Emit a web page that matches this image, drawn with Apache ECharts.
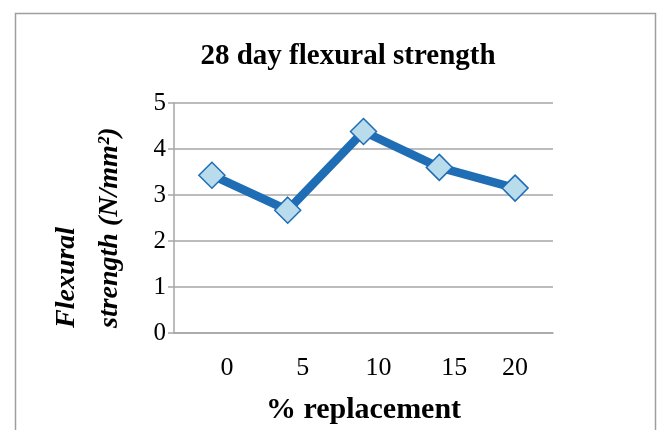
<!DOCTYPE html>
<html>
<head>
<meta charset="utf-8">
<script src="https://cdn.jsdelivr.net/npm/echarts@6/dist/echarts.min.js"></script>
<style>
  html, body { margin: 0; padding: 0; background: #ffffff; }
  #chart { width: 658px; height: 430px; }
</style>
</head>
<body>
<div id="chart"></div>
<script>
// 28-day flexural strength against % replacement
const replacement = ['0', '5', '10', '15', '20'];
const strength = [3.43, 2.67, 4.38, 3.60, 3.15];
const yTicks = [0, 1, 2, 3, 4, 5];

const SERIF = '"Liberation Serif", "Times New Roman", serif';
const chart = echarts.init(document.getElementById('chart'), null, { renderer: 'canvas' });

chart.setOption({
  backgroundColor: '#ffffff',
  animation: false,
  title: {
    text: '28 day flexural strength',
    left: 343,
    top: 37,
    textAlign: 'center',
    textStyle: { fontFamily: SERIF, fontWeight: 'bold', fontSize: 29, color: '#000' }
  },
  grid: { left: 174, right: 105, top: 103, bottom: 92 },
  xAxis: {
    type: 'category',
    data: replacement,
    boundaryGap: true,
    name: '% replacement',
    nameLocation: 'middle',
    nameGap: 62,
    nameTextStyle: { fontFamily: SERIF, fontWeight: 'bold', fontSize: 30, color: '#000' },
    axisLine: { lineStyle: { color: '#a6a6a6', width: 1.5 } },
    axisTick: { show: false },
    axisLabel: {
      interval: 0,
      margin: 22,
      fontFamily: SERIF,
      fontSize: 26,
      color: '#000',
      formatter: (v, i) => (i < replacement.length - 1 ? '{s|' + v + '}' : '{n|' + v + '}'),
      rich: {
        s: { fontFamily: SERIF, fontSize: 26, color: '#000', padding: [0, 0, 0, 30] },
        n: { fontFamily: SERIF, fontSize: 26, color: '#000' }
      }
    }
  },
  yAxis: {
    type: 'value',
    min: yTicks[0],
    max: yTicks[yTicks.length - 1],
    interval: 1,
    axisLine: { show: true, lineStyle: { color: '#a6a6a6', width: 1.5 } },
    axisTick: { show: true, length: 6, lineStyle: { color: '#a6a6a6', width: 1.5 } },
    axisLabel: { margin: 8, fontFamily: SERIF, fontSize: 25, color: '#000' },
    splitLine: { lineStyle: { color: '#a6a6a6', width: 1.5 } }
  },
  series: [{
    type: 'line',
    data: strength,
    lineStyle: { color: '#1f6db5', width: 8.5 },
    symbol: 'diamond',
    symbolSize: 26,
    itemStyle: { color: '#b8dcec', borderColor: '#1f6db5', borderWidth: 1.5 },
    z: 3
  }],
  graphic: [
    {
      type: 'rect',
      shape: { x: 15.5, y: 13.5, width: 640, height: 440 },
      style: { fill: 'none', stroke: '#9e9e9e', lineWidth: 1.5 },
      silent: true
    },
    {
      type: 'text',
      x: 88,
      y: 328,
      rotation: Math.PI / 2,
      style: {
        text: 'Flexural\nstrength (N/mm²)',
        font: 'italic bold 28px ' + SERIF,
        fill: '#000',
        align: 'left',
        verticalAlign: 'middle',
        lineHeight: 43
      },
      silent: true
    }
  ]
});
</script>
</body>
</html>
